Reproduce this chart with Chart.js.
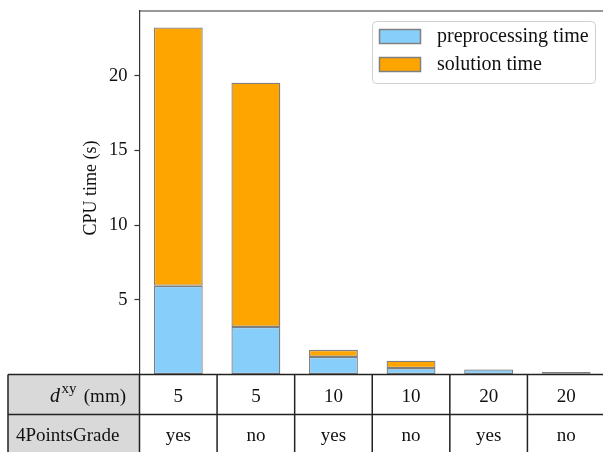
<!DOCTYPE html>
<html>
<head>
<meta charset="utf-8">
<script src="https://cdn.jsdelivr.net/npm/chart.js@4"></script>
<style>
  html, body { margin: 0; padding: 0; overflow: hidden; background: #fff; }
  #wrap { width: 610px; height: 452px; }
</style>
</head>
<body>
<div id="wrap"><canvas id="cpuChart" width="610" height="452"></canvas></div>
<script>
// Data
const spacingLabels = ['5', '5', '10', '10', '20', '20'];
const gradeLabels = ['yes', 'no', 'yes', 'no', 'yes', 'no'];
const preprocessingTime = [5.94, 3.19, 1.18, 0.43, 0.33, 0.08];
const solutionTime = [17.31, 16.35, 0.47, 0.49, 0.03, 0.08];
const yTicks = [5, 10, 15, 20];
const yMax = 24.35;

const FONT = '"Liberation Serif", "Times New Roman", serif';
const EDGE = 'rgba(0, 0, 0, 0.5)';

// Draws the top spine, y title, legend box and the table under the bars
const extrasPlugin = {
  id: 'extras',
  afterDraw(chart) {
    const ctx = chart.ctx;
    const area = chart.chartArea;
    const x = chart.scales.x;
    const colW = (area.right - area.left) / spacingLabels.length;
    ctx.save();

    // top spine
    ctx.strokeStyle = '#333';
    ctx.lineWidth = 1.2;
    ctx.beginPath();
    ctx.moveTo(area.left, area.top);
    ctx.lineTo(chart.width, area.top);
    ctx.stroke();

    // y axis title
    ctx.fillStyle = '#111';
    ctx.font = '18px ' + FONT;
    ctx.textAlign = 'center';
    ctx.textBaseline = 'middle';
    ctx.save();
    ctx.translate(91, 188);
    ctx.rotate(-Math.PI / 2);
    ctx.fillText('CPU time (s)', 0, 0);
    ctx.restore();

    // legend
    ctx.fillStyle = 'rgba(255,255,255,0.85)';
    ctx.strokeStyle = '#d0d0d0';
    ctx.lineWidth = 1;
    ctx.beginPath();
    ctx.roundRect(372.5, 21.5, 223, 62, 4);
    ctx.fill();
    ctx.stroke();
    const legendItems = [
      { label: 'preprocessing time', color: '#87cefa', y: 29.5 },
      { label: 'solution time', color: '#ffa500', y: 57.5 }
    ];
    legendItems.forEach(item => {
      ctx.fillStyle = item.color;
      ctx.fillRect(379.5, item.y, 41, 14);
      ctx.strokeStyle = '#808080';
      ctx.lineWidth = 1.5;
      ctx.strokeRect(379.5, item.y, 41, 14);
      ctx.fillStyle = '#111';
      ctx.textAlign = 'left';
      ctx.textBaseline = 'middle';
      ctx.font = '20px ' + FONT;
      ctx.fillText(item.label, 437, item.y + 7.5);
    });

    // table
    const top = area.bottom;
    const rowH = 40;
    const left = 8;
    ctx.fillStyle = '#d9d9d9';
    ctx.fillRect(left, top, area.left - left, rowH * 2 + 5);

    ctx.strokeStyle = '#222';
    ctx.lineWidth = 1.5;
    ctx.beginPath();
    for (let r = 0; r <= 2; r++) {
      ctx.moveTo(left, top + r * rowH);
      ctx.lineTo(chart.width, top + r * rowH);
    }
    ctx.moveTo(left, top);
    ctx.lineTo(left, chart.height);
    for (let i = 0; i <= spacingLabels.length; i++) {
      const bx = i === 0 ? area.left : x.getPixelForValue(i - 1) + colW / 2;
      ctx.moveTo(bx, top);
      ctx.lineTo(bx, chart.height);
    }
    ctx.stroke();

    const cellFont = '19px ' + FONT;
    ctx.fillStyle = '#111';
    ctx.textAlign = 'center';
    ctx.textBaseline = 'alphabetic';
    ctx.font = cellFont;
    spacingLabels.forEach((lab, i) => {
      const cx = x.getPixelForValue(i);
      ctx.fillText(lab, cx, top + 27);
      ctx.fillText(gradeLabels[i], cx, top + rowH + 26);
    });

    // row headers
    const base1 = top + 27;
    ctx.textAlign = 'left';
    ctx.font = cellFont;
    const mmW = ctx.measureText(' (mm)').width;
    ctx.font = '15px ' + FONT;
    const supW = ctx.measureText('xy').width;
    ctx.font = 'italic 20px ' + FONT;
    const dW = ctx.measureText('d').width;
    let tx = 126 - mmW - supW - dW - 4;
    ctx.fillText('d', tx, base1);
    tx += dW + 1.5;
    ctx.font = '15px ' + FONT;
    ctx.fillText('xy', tx, base1 - 9);
    tx += supW + 2.5;
    ctx.font = cellFont;
    ctx.fillText(' (mm)', tx, base1);
    ctx.fillText('4PointsGrade', 16, top + rowH + 26);

    ctx.restore();
  }
};

const barStyle = {
  borderColor: EDGE,
  borderWidth: 1.3,
  borderSkipped: false,
  barPercentage: 0.63,
  categoryPercentage: 1.0
};

const chart = new Chart(document.getElementById('cpuChart'), {
  type: 'bar',
  data: {
    labels: spacingLabels.map((s, i) => s + ' / ' + gradeLabels[i]),
    datasets: [
      { label: 'preprocessing time', data: preprocessingTime, backgroundColor: '#87cefa', ...barStyle },
      { label: 'solution time', data: solutionTime, backgroundColor: '#ffa500', ...barStyle }
    ]
  },
  options: {
    responsive: false,
    animation: false,
    layout: { padding: { top: 11, right: 5, bottom: 77.5, left: 0 } },
    plugins: {
      legend: { display: false },
      tooltip: { enabled: false }
    },
    scales: {
      x: {
        stacked: true,
        display: false
      },
      y: {
        stacked: true,
        min: 0,
        max: yMax,
        afterFit(scale) {
          scale.width = 139.5;
          scale.paddingTop = 0;
          scale.paddingBottom = 0;
        },
        afterBuildTicks(scale) {
          scale.ticks = [0].concat(yTicks).map(v => ({ value: v }));
        },
        ticks: {
          color: '#111',
          padding: 7,
          font: { family: FONT, size: 18.5 },
          callback: v => (yTicks.includes(v) ? String(v) : '')
        },
        grid: {
          drawOnChartArea: false,
          drawTicks: true,
          tickLength: 5,
          tickWidth: 1.2,
          color: '#333'
        },
        border: { display: true, color: '#333', width: 1.2 }
      }
    }
  },
  plugins: [extrasPlugin]
});
</script>
</body>
</html>
